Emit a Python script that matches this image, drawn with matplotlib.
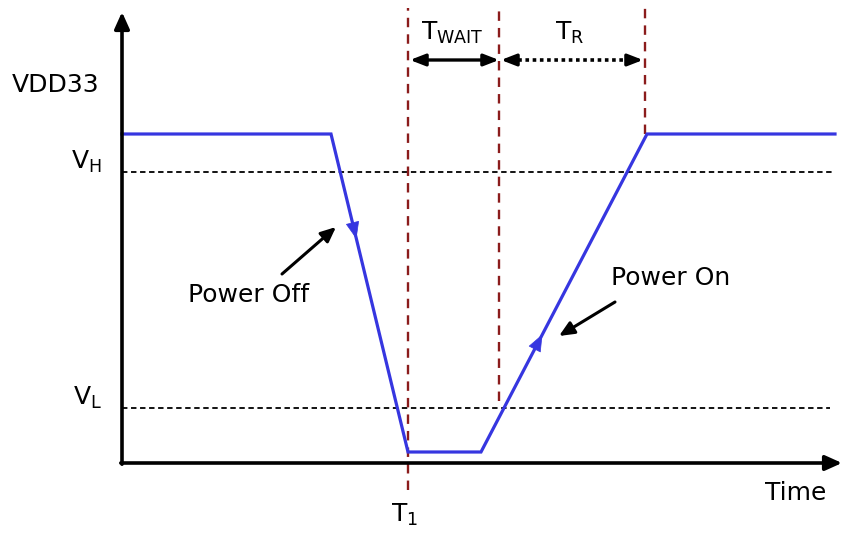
import matplotlib.pyplot as plt

# VDD33 waveform (arbitrary units: time right, voltage up)
sig_t = [0, 209, 286, 359, 525, 713]
sig_v = [329, 329, 11, 11, 329, 329]
v_high = 291
v_low = 55
t1 = 286
t_wait_end = 377
t_r_end = 523

BLUE = "#3636e0"
RED = "#8b1c1c"

fig = plt.figure(figsize=(8.45, 5.34), dpi=100)
ax = fig.add_axes([0, 0, 1, 1])
ax.set_xlim(-122, 723)
ax.set_ylim(-71, 463)
ax.axis("off")

# axes with arrows
ax.annotate("", xy=(0, 451), xytext=(0, -1.2),
            arrowprops=dict(arrowstyle="-|>,head_width=0.45,head_length=1.0",
                            lw=2.6, color="black", shrinkA=0, shrinkB=0))
ax.annotate("", xy=(720, 0), xytext=(-1.2, 0),
            arrowprops=dict(arrowstyle="-|>,head_width=0.45,head_length=1.0",
                            lw=2.6, color="black", shrinkA=0, shrinkB=0))

# threshold levels
ax.plot([0, 710], [v_high, v_high], ls=(0, (3, 2)), color="black", lw=1.3)
ax.plot([0, 708], [v_low, v_low], ls=(0, (3, 2)), color="black", lw=1.3)

# timing markers
ax.plot([t1, t1], [-27, 455], ls=(0, (4, 3)), color=RED, lw=1.7)
ax.plot([t_wait_end, t_wait_end], [62, 455], ls=(0, (4, 3)), color=RED, lw=1.7)
ax.plot([t_r_end, t_r_end], [329, 455], ls=(0, (4, 3)), color=RED, lw=1.7)

# waveform
ax.plot(sig_t, sig_v, color=BLUE, lw=2.3, solid_joinstyle="miter")


def seg_arrow(i, f):
    x0, y0, x1, y1 = sig_t[i], sig_v[i], sig_t[i + 1], sig_v[i + 1]
    xt, yt = x0 + f * (x1 - x0), y0 + f * (y1 - y0)
    xs, ys = x0 + (f - 0.05) * (x1 - x0), y0 + (f - 0.05) * (y1 - y0)
    ax.annotate("", xy=(xt, yt), xytext=(xs, ys),
                arrowprops=dict(arrowstyle="-|>,head_width=0.3,head_length=0.75",
                                mutation_scale=15, color=BLUE, lw=0.5,
                                shrinkA=0, shrinkB=0))


seg_arrow(1, 0.33)
seg_arrow(3, 0.37)

# T_WAIT (solid) and T_R (dotted) spans
arrow_y = 403
ax.annotate("", xy=(t1 + 2, arrow_y), xytext=(t_wait_end, arrow_y),
            arrowprops=dict(arrowstyle="<|-|>,head_width=0.35,head_length=0.9",
                            lw=2.4, color="black", shrinkA=0, shrinkB=0))
ax.plot([t_wait_end + 12, t_r_end - 12], [arrow_y, arrow_y], ls=(0, (1, 1)),
        color="black", lw=2.6)
for a, b in [(t_wait_end + 14, t_wait_end + 2), (t_r_end - 14, t_r_end - 2)]:
    ax.annotate("", xy=(b, arrow_y), xytext=(a, arrow_y),
                arrowprops=dict(arrowstyle="-|>,head_width=0.35,head_length=0.9",
                                lw=2.4, color="black", shrinkA=0, shrinkB=0))

# pointer arrows
ax.annotate("", xy=(214, 236), xytext=(160, 189),
            arrowprops=dict(arrowstyle="-|>,head_width=0.4,head_length=0.9",
                            lw=2.2, color="black", shrinkA=0, shrinkB=0))
ax.annotate("", xy=(437, 127), xytext=(493, 161),
            arrowprops=dict(arrowstyle="-|>,head_width=0.4,head_length=0.9",
                            lw=2.2, color="black", shrinkA=0, shrinkB=0))

# labels
fs = 18
ax.text(-66, 378, "VDD33", fontsize=fs, ha="center", va="center")
ax.text(-36, 301, r"$\mathregular{V_H}$", fontsize=fs, ha="center", va="center")
ax.text(-35, 65, r"$\mathregular{V_L}$", fontsize=fs, ha="center", va="center")
ax.text(330, 430, r"$\mathregular{T_{WAIT}}$", fontsize=fs, ha="center", va="center")
ax.text(448, 430, r"$\mathregular{T_R}$", fontsize=fs, ha="center", va="center")
ax.text(283, -52, r"$\mathregular{T_1}$", fontsize=fs, ha="center", va="center")
ax.text(674, -30, "Time", fontsize=fs, ha="center", va="center")
ax.text(127, 168, "Power Off", fontsize=fs, ha="center", va="center")
ax.text(549, 185, "Power On", fontsize=fs, ha="center", va="center")

fig.savefig("out.png", dpi=100)
